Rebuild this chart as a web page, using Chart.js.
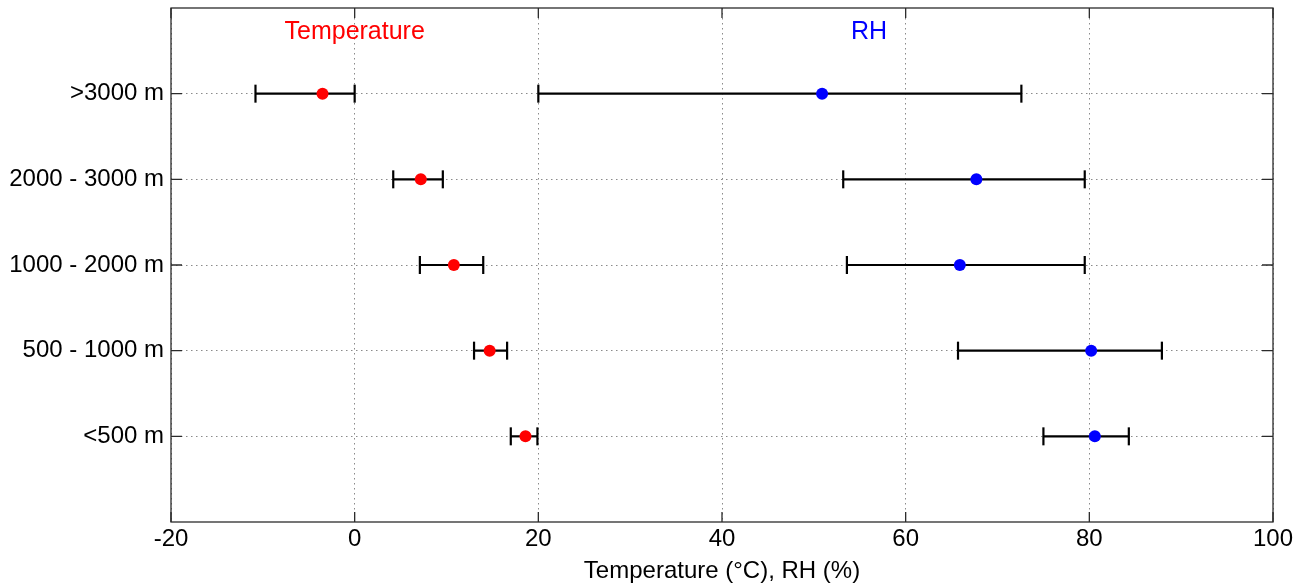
<!DOCTYPE html>
<html>
<head>
<meta charset="utf-8">
<script src="https://cdn.jsdelivr.net/npm/chart.js@4"></script>
<style>
  html, body { margin: 0; padding: 0; background: #fff; }
  #wrap { width: 1306px; height: 586px; }
</style>
</head>
<body>
<div id="wrap"><canvas id="myChart" width="1306" height="586"></canvas></div>
<script>
// altitude classes, top to bottom
const categories = [">3000 m", "2000 - 3000 m", "1000 - 2000 m", "500 - 1000 m", "<500 m"];

// temperature (°C): mean and error bar ends
const tempMean = [-3.5, 7.2, 10.8, 14.7, 18.6];
const tempLow = [-10.8, 4.2, 7.1, 13.0, 17.0];
const tempHigh = [0.0, 9.6, 14.0, 16.6, 19.9];

// relative humidity (%): mean and error bar ends
const rhMean = [50.9, 67.7, 65.9, 80.2, 80.6];
const rhLow = [20.0, 53.2, 53.6, 65.7, 75.0];
const rhHigh = [72.6, 79.5, 79.5, 87.9, 84.3];

const xTicks = [-20, 0, 20, 40, 60, 80, 100];

const FONT = "'Liberation Sans', Arial, Helvetica, sans-serif";

// row i sits at y = n - i on a 0..n+1 axis
const yPos = (i) => categories.length - i;

const errorBars = (low, high) =>
  categories.map((c, i) => ({
    type: "line",
    data: [{ x: low[i], y: yPos(i) }, { x: high[i], y: yPos(i) }],
    borderColor: "#000",
    borderWidth: 2.2,
    pointStyle: "line",
    pointRotation: 90,
    pointRadius: 9,
    pointBorderWidth: 2.2,
    pointBorderColor: "#000",
    pointHoverRadius: 9,
    order: 1,
  }));

const markers = (means, color) => ({
  type: "scatter",
  data: means.map((v, i) => ({ x: v, y: yPos(i) })),
  backgroundColor: color,
  borderWidth: 0,
  pointRadius: 6,
  pointHoverRadius: 6,
  order: 0,
});

// red / blue labels above the two groups
const seriesLabels = [
  { text: "Temperature", x: 0, y: 5.72, color: "#ff0000" },
  { text: "RH", x: 56, y: 5.72, color: "#0000ff" },
];

const framePlugin = {
  id: "frame",
  afterDatasetsDraw(chart) {
    const { ctx, chartArea: a, scales } = chart;
    ctx.save();
    ctx.strokeStyle = "#2b2b2b";
    ctx.lineWidth = 1.3;
    ctx.strokeRect(a.left, a.top, a.right - a.left, a.bottom - a.top);
    ctx.beginPath();
    scales.x.ticks.forEach((t) => {
      const px = scales.x.getPixelForValue(t.value);
      ctx.moveTo(px, a.bottom); ctx.lineTo(px, a.bottom - 10);
      ctx.moveTo(px, a.top); ctx.lineTo(px, a.top + 10);
    });
    scales.y.ticks.forEach((t) => {
      const py = scales.y.getPixelForValue(t.value);
      ctx.moveTo(a.left, py); ctx.lineTo(a.left + 11, py);
      ctx.moveTo(a.right, py); ctx.lineTo(a.right - 11, py);
    });
    ctx.stroke();

    ctx.font = "25px " + FONT;
    ctx.textAlign = "center";
    ctx.textBaseline = "middle";
    seriesLabels.forEach((l) => {
      ctx.fillStyle = l.color;
      ctx.fillText(l.text, scales.x.getPixelForValue(l.x), scales.y.getPixelForValue(l.y));
    });
    ctx.restore();
  },
};

new Chart("myChart", {
  data: {
    datasets: [
      markers(tempMean, "#ff0000"),
      markers(rhMean, "#0000ff"),
      ...errorBars(tempLow, tempHigh),
      ...errorBars(rhLow, rhHigh),
    ],
  },
  options: {
    responsive: false,
    animation: false,
    events: [],
    layout: { autoPadding: false, padding: { top: 8, right: 33, left: 0, bottom: 0 } },
    plugins: { legend: { display: false }, tooltip: { enabled: false } },
    scales: {
      x: {
        type: "linear",
        min: -20,
        max: 100,
        afterBuildTicks: (s) => { s.ticks = xTicks.map((v) => ({ value: v })); },
        afterFit: (s) => { s.height = 64; s.paddingLeft = 0; s.paddingRight = 0; },
        ticks: { color: "#000", font: { family: FONT, size: 24 }, padding: 3 },
        grid: { color: "#8a8a8a", lineWidth: 1, drawTicks: false },
        border: { display: false, dash: [1.5, 3.5] },
        title: {
          display: true,
          text: "Temperature (°C), RH (%)",
          color: "#000",
          font: { family: FONT, size: 24 },
          padding: { top: 13, bottom: 0 },
        },
      },
      y: {
        type: "linear",
        min: 0,
        max: categories.length + 1,
        afterBuildTicks: (s) => { s.ticks = categories.map((c, i) => ({ value: yPos(i) })); },
        afterFit: (s) => { s.width = 171; s.paddingTop = 0; s.paddingBottom = 0; },
        ticks: {
          color: "#000",
          font: { family: FONT, size: 24 },
          padding: 7,
          callback: (v) => categories[categories.length - v],
        },
        grid: { color: "#8a8a8a", lineWidth: 1, drawTicks: false },
        border: { display: false, dash: [1.5, 3.5] },
      },
    },
  },
  plugins: [framePlugin],
});
</script>
</body>
</html>
